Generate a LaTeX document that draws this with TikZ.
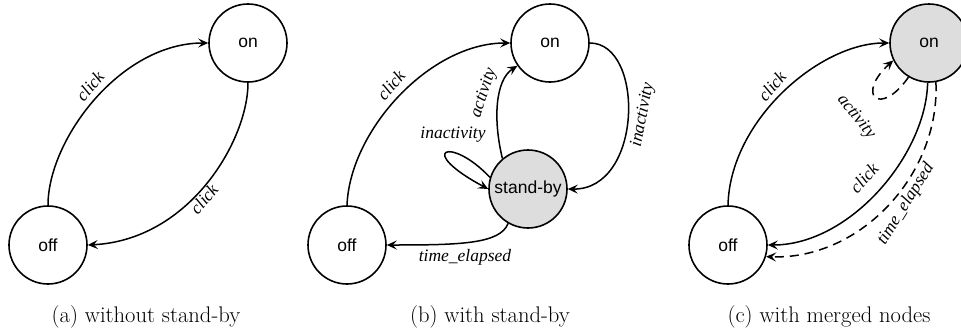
\documentclass[tikz,border=0pt]{standalone}
\usepackage{fontspec}
\newfontfamily\statefont{Liberation Sans}
\newfontfamily\labelfont{Liberation Serif}
\usetikzlibrary{arrows.meta}
\definecolor{sbgray}{HTML}{DDDDDD}
\tikzset{
  state/.style={circle, draw, line width=1.6pt, minimum size=78pt, inner sep=0pt,
    font=\statefont\fontsize{17.5}{20}\selectfont},
  merged/.style={state, fill=sbgray},
  trans/.style={line width=1.5pt, -{Stealth[length=10pt, width=9pt, inset=4pt]}},
  dashtrans/.style={trans, dash pattern=on 9pt off 6pt},
  elabel/.style={font=\labelfont\itshape\fontsize{17.5}{20}\selectfont, inner sep=1pt},
  caption/.style={font=\fontsize{22.6}{27}\selectfont}
}
\begin{document}
\begin{tikzpicture}[x=1pt, y=-1pt]
\useasboundingbox (0,0) rectangle (961,335);

% (a) without stand-by
\node[state] (aon)  at (248,43)  {on};
\node[state] (aoff) at (48,245)  {off};
\draw[trans] (aoff.north) .. controls (48,140) and (120,43) .. (aon.west);
\draw[trans] (aon.south) .. controls (248,140) and (190,240) .. (aoff.east);
\node[elabel, rotate=50] (aclick1) at (90,86) {click};
\node[elabel, rotate=50] (aclick2) at (204,199) {click};
\node[caption] (capa) at (146,317) {(a) without stand-by};

% (b) with stand-by
\node[state]  (bon)  at (550,43)  {on};
\node[merged] (bsb)  at (528,189) {stand-by};
\node[state]  (boff) at (347,245) {off};
\draw[trans] (boff.north) .. controls (350,130) and (430,43) .. (bon.west);
\draw[trans] (bsb.130) .. controls (493,120) and (495,80) .. (bon.215);
\draw[trans] (bsb.163) .. controls (450,135) and (415,150) .. (bsb.180);
\draw[trans] (bon.east) .. controls (645,43) and (643,190) .. (bsb.east);
\draw[trans] (bsb.240) .. controls (500,244) and (460,245) .. (boff.east);
\node[elabel, rotate=50] (bclick) at (391,85) {click};
\node[elabel, rotate=72] (bact) at (484,93) {activity};
\node[elabel] (binact1) at (453,135) {inactivity};
\node[elabel, rotate=79] (binact2) at (643,115) {inactivity};
\node[elabel] (btime) at (465,257) {time\_elapsed};
\node[caption] (capb) at (490,317) {(b) with stand-by};

% (c) with merged nodes
\node[merged] (con)  at (929,43)  {on};
\node[state]  (coff) at (728,245) {off};
\draw[trans] (coff.north) .. controls (730,120) and (820,43) .. (con.west);
\draw[dashtrans] (con.239) .. controls (880,118) and (855,95) .. (con.206);
\draw[trans] (con.268) .. controls (926,155) and (850,245) .. (coff.east);
\draw[dashtrans] (con.280) .. controls (940,175) and (860,260) .. (coff.343);
\node[elabel, rotate=50] (cclick1) at (772,86) {click};
\node[elabel, rotate=-52] (cact) at (856,117) {activity};
\node[elabel, rotate=48] (cclick2) at (864,178) {click};
\node[elabel, rotate=58] (ctime) at (906,204) {time\_elapsed};
\node[caption] (capc) at (829,317) {(c) with merged nodes};
\end{tikzpicture}
\end{document}
